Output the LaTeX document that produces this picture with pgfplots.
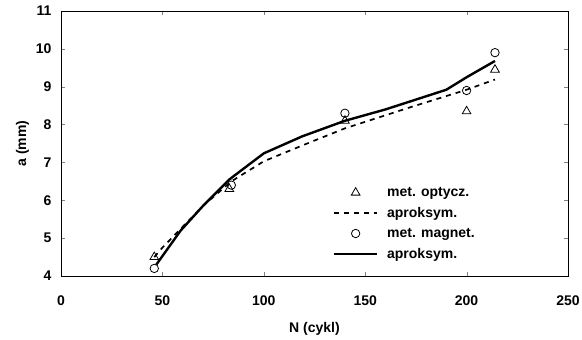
\documentclass[border=0pt]{standalone}
\usepackage{pgfplots}
\pgfplotsset{compat=1.18}
\usepackage{fontspec}
\setmainfont{Liberation Sans}
\pgfplotsset{
  linelegend/.style={legend image code/.code={\draw[##1] (0pt,0pt) -- (43pt,0pt); \path[draw=none] (0pt,0pt) -- (51pt,0pt);}},
  marklegend/.style={legend image code/.code={\draw[##1,mark repeat=1,mark phase=1] plot coordinates {(21.5pt,0pt)}; \path[draw=none] (0pt,0pt) -- (51pt,0pt);}},
}
\begin{document}
\begin{tikzpicture}
\useasboundingbox (-61pt,-64pt) rectangle (521pt,276pt);
\begin{axis}[
  at={(0,0)}, anchor=south west,
  scale only axis, width=507pt, height=265pt,
  xmin=0, xmax=250, ymin=4, ymax=11,
  xtick={0,50,...,250}, ytick={4,5,...,11},
  tick align=inside, major tick length=4pt,
  font=\bfseries\fontsize{14}{16}\selectfont,
  /pgf/number format/assume math mode=true,
  xlabel={N (cykl)}, ylabel={a (mm)},
  xlabel style={font=\bfseries\fontsize{14}{16}\selectfont, yshift=-10pt},
  ylabel style={font=\bfseries\fontsize{14}{16}\selectfont},
  ticklabel style={font=\bfseries\fontsize{14}{16}\selectfont},
  xticklabel style={yshift=-16pt},
  yticklabel style={xshift=-6pt},
  axis line style={line width=0.8pt},
  legend style={at={(0.536,0.343)}, anchor=north west, draw=none, fill=none,
    inner sep=0pt, row sep=5.3pt, font=\bfseries\fontsize{14}{16}\selectfont,
    cells={anchor=west}},
  legend cell align=left,
]
\addplot[only marks, mark=triangle, mark size=5pt, mark options={line width=0.8pt}, marklegend]
  coordinates {(46,4.5) (83,6.3) (140,8.1) (200,8.35) (214,9.45)};
\addlegendentry{met. optycz.}
\addplot[black, dash pattern=on 5pt off 5pt, line width=1.7pt, no marks, linelegend]
  coordinates {(46,4.5) (50,4.75) (60,5.3) (70,5.85) (84,6.5) (100,7.03) (120,7.47) (140,7.9) (173,8.47) (200,8.92) (214,9.19)};
\addlegendentry{aproksym.}
\addplot[only marks, mark=o, mark size=4.2pt, mark options={line width=0.8pt}, marklegend]
  coordinates {(46,4.2) (84,6.4) (140,8.3) (200,8.9) (214,9.9)};
\addlegendentry{met. magnet.}
\addplot[black, line width=2.4pt, no marks, linelegend]
  coordinates {(47,4.3) (59,5.2) (70,5.85) (83,6.55) (100,7.24) (119,7.69) (140,8.1) (160,8.4) (190,8.92) (200,9.25) (214,9.68)};
\addlegendentry{aproksym.}
\end{axis}
\end{tikzpicture}
\end{document}
